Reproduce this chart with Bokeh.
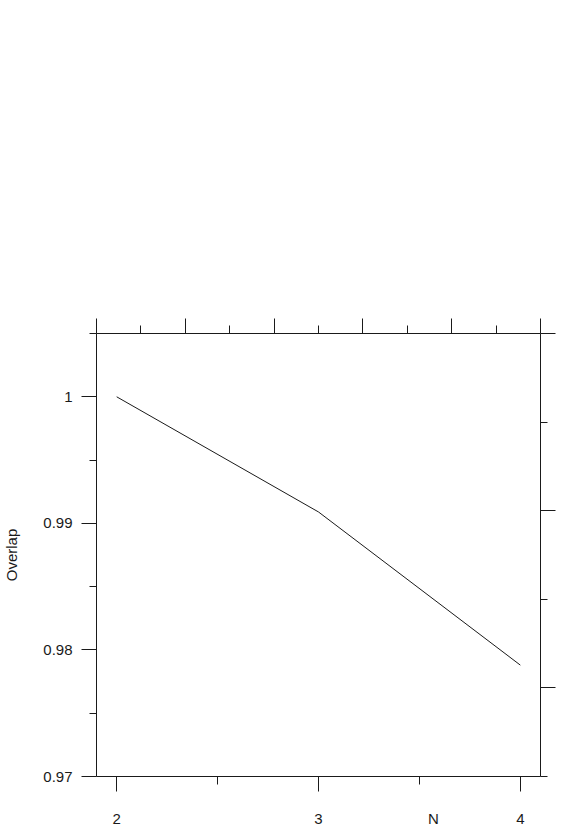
from bokeh.plotting import figure
from bokeh.models import (LinearAxis, Range1d, FixedTicker, CustomJSTickFormatter)
from bokeh.embed import file_html
from bokeh.resources import INLINE

# data
n_values = [2, 3, 4]
overlap = [1.0, 0.9909, 0.9788]

x_ticks = [2, 3, 4]
x_minor = [2.5, 3.5]
y_ticks = [0.97, 0.98, 0.99, 1.0]
y_minor = [0.975, 0.985, 0.995, 1.005]
top_ticks = [0, 2, 4, 6, 8, 10]
top_minor = [1, 3, 5, 7, 9]
right_ticks = [1, 3, 5]
right_minor = [0, 2, 4]

x_title = "N"
x_title_pos = 3.57
y_title = "Overlap"

FONT = "Liberation Sans"
INK = "#1a1a1a"

p = figure(frame_width=444, frame_height=443,
           x_range=Range1d(1.9, 4.1), y_range=Range1d(0.97, 1.005),
           output_backend="svg", toolbar_location=None,
           x_axis_location=None, y_axis_location=None,
           min_border_left=91, min_border_top=333,
           min_border_right=30, min_border_bottom=56)
p.xgrid.visible = False
p.ygrid.visible = False
p.outline_line_color = None
p.background_fill_color = "white"
p.border_fill_color = "white"

p.extra_x_ranges = {"top": Range1d(0, 10)}
p.extra_y_ranges = {"right": Range1d(0, 5)}

p.line(n_values, overlap, line_color=INK, line_width=1)

def style(ax, major_out=15, minor_out=8):
    ax.axis_line_color = INK
    ax.major_tick_line_color = INK
    ax.minor_tick_line_color = INK
    ax.major_tick_in = 0
    ax.minor_tick_in = 0
    ax.major_tick_out = major_out
    ax.minor_tick_out = minor_out
    ax.major_label_text_font = FONT
    ax.major_label_text_font_size = "15px"
    ax.major_label_text_color = INK
    ax.axis_label_text_font = FONT
    ax.axis_label_text_font_size = "15px"
    ax.axis_label_text_font_style = "normal"
    ax.axis_label_text_color = INK

blank = "return ''"

# bottom axis: line and tick marks only
bottom = LinearAxis(ticker=FixedTicker(ticks=x_ticks, minor_ticks=x_minor),
                    formatter=CustomJSTickFormatter(code=blank))
style(bottom)
bottom.major_label_text_font_size = "0px"
bottom.major_label_standoff = 0
p.add_layout(bottom, "below")

# bottom labels (tick values and the off-centre axis title "N")
label_ticks = x_ticks + [x_title_pos]
label_texts = [str(v) for v in x_ticks] + [x_title]
blabels = LinearAxis(ticker=FixedTicker(ticks=label_ticks, minor_ticks=[]),
                     formatter=CustomJSTickFormatter(
                         args=dict(pos=label_ticks, txt=label_texts),
                         code="const i = pos.findIndex(v => Math.abs(v - tick) < 1e-6); return i >= 0 ? txt[i] : ''"))
style(blabels)
blabels.axis_line_color = None
blabels.major_tick_line_color = None
blabels.minor_tick_line_color = None
blabels.major_tick_out = 0
blabels.minor_tick_out = 0
blabels.major_label_standoff = 18
p.add_layout(blabels, "below")

left = LinearAxis(ticker=FixedTicker(ticks=y_ticks, minor_ticks=y_minor),
                  formatter=CustomJSTickFormatter(code="return tick.toFixed(2).replace(/\\.?0+$/, '')"))
style(left, minor_out=7)
left.major_label_standoff = 9
left.axis_label = y_title
left.axis_label_standoff = 20
p.add_layout(left, "left")

top = LinearAxis(x_range_name="top",
                 ticker=FixedTicker(ticks=top_ticks, minor_ticks=top_minor),
                 formatter=CustomJSTickFormatter(code=blank))
style(top)
top.major_label_text_color = None
p.add_layout(top, "above")

right = LinearAxis(y_range_name="right",
                   ticker=FixedTicker(ticks=right_ticks, minor_ticks=right_minor),
                   formatter=CustomJSTickFormatter(code=blank))
style(right, minor_out=7)
right.major_label_text_color = None
p.add_layout(right, "right")

open("out.html", "w").write(file_html(p, INLINE))
